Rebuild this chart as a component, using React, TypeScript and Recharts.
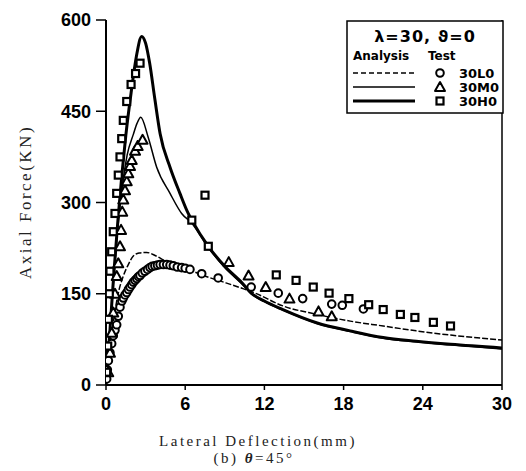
import React from 'react';
import { ComposedChart, Line, Scatter, XAxis, YAxis, ReferenceLine } from 'recharts';

const xTicks = [0, 6, 12, 18, 24, 30];
const yTicks = [0, 150, 300, 450, 600];

// analysis curves: [lateral deflection (mm), axial force (kN)]
const l0Analysis: [number, number][] = [
  [0, 0], [0.2, 45], [0.5, 95], [0.93, 151], [1.31, 179], [1.69, 198], [2.07, 212], [2.5, 217],
  [3.08, 218], [3.8, 212], [4.6, 203], [5.48, 198], [6.3, 190], [7.25, 181], [8.5, 172],
  [10.3, 159], [11.3, 151], [13.4, 130], [16, 116], [18.5, 105], [21, 97], [23.5, 89],
  [26.1, 82], [30, 74],
];
const m0Analysis: [number, number][] = [
  [0, 0], [0.4, 120], [0.8, 235], [1.2, 320], [1.6, 378], [2.07, 412], [2.35, 430], [2.63, 440],
  [3.2, 407], [3.84, 358], [4.85, 315], [5.73, 282], [6.5, 266], [7.75, 226], [9.0, 193],
  [10.3, 166], [11.0, 150], [12, 137], [13.4, 123], [16, 101], [18.5, 88], [21, 77],
  [23.5, 71], [26.1, 66], [30, 59],
];
const h0Analysis: [number, number][] = [
  [0, 0], [0.3, 90], [0.6, 185], [0.9, 270], [1.2, 345], [1.5, 410], [1.9, 480], [2.3, 540],
  [2.7, 573], [3.0, 562], [3.3, 530], [3.7, 470], [4.1, 413], [4.85, 358], [5.6, 315],
  [6.23, 282], [6.5, 271], [7.75, 228], [9.0, 195], [10.3, 168], [11.0, 151], [12, 138],
  [13.4, 124], [16.0, 102], [18.5, 89], [21.0, 78], [23.5, 72], [26.1, 67], [30, 61],
];

// test results
const l0Test: [number, number][] = [
  [0.05, 10], [0.1, 25], [0.18, 40], [0.3, 53], [0.43, 68], [0.55, 81], [0.68, 90], [0.81, 99],
  [0.93, 113], [1.06, 128], [1.2, 138], [1.31, 143], [1.44, 148], [1.57, 152], [1.7, 157],
  [1.82, 161], [1.95, 165], [2.07, 169], [2.2, 172], [2.33, 175], [2.46, 178], [2.58, 180],
  [2.75, 184], [2.95, 187], [3.15, 190], [3.33, 193], [3.5, 195], [3.7, 196], [3.9, 197],
  [4.1, 198], [4.35, 198], [4.6, 198], [4.85, 197], [5.1, 196], [5.4, 194], [5.73, 193],
  [6.0, 192], [6.36, 190], [7.25, 183], [8.5, 176], [11.0, 161], [13.05, 151], [14.9, 142],
  [17.1, 133], [17.9, 131], [19.5, 125],
];
const m0Test: [number, number][] = [
  [0.17, 21], [0.3, 53], [0.43, 86], [0.55, 119], [0.68, 150], [0.81, 179], [0.93, 200],
  [1.06, 228], [1.14, 255], [1.23, 285], [1.31, 305], [1.44, 320], [1.57, 335], [1.69, 348],
  [1.82, 360], [1.95, 370], [2.2, 385], [2.4, 393], [2.77, 403],
  [9.3, 202], [10.8, 180], [12.1, 161], [13.9, 142], [16.1, 121], [17.1, 113],
];
const h0Test: [number, number][] = [
  [0.05, 21], [0.13, 64], [0.18, 108], [0.25, 150], [0.3, 187], [0.43, 219], [0.55, 252],
  [0.68, 282], [0.81, 315], [0.93, 345], [1.06, 375], [1.19, 405], [1.31, 435], [1.57, 466],
  [1.9, 494], [2.24, 512], [2.58, 529], [6.5, 271], [7.75, 228], [7.5, 312], [12.9, 181],
  [14.4, 172], [15.7, 161], [16.9, 151], [18.4, 142], [19.9, 132], [21.0, 124], [22.3, 116],
  [23.4, 111], [24.8, 103], [26.1, 97],
];

const toPoints = (arr: [number, number][]) => arr.map(([x, y]) => ({ x, y }));

const CircleMark = ({ cx, cy }: any) =>
  cx == null ? null : <circle cx={cx} cy={cy} r={3.8} fill="#fff" stroke="#000" strokeWidth={2} />;

const TriangleMark = ({ cx, cy }: any) =>
  cx == null ? null : (
    <polygon
      points={`${cx},${cy - 5} ${cx - 5},${cy + 4} ${cx + 5},${cy + 4}`}
      fill="#fff"
      stroke="#000"
      strokeWidth={2}
      strokeLinejoin="round"
    />
  );

const SquareMark = ({ cx, cy }: any) =>
  cx == null ? null : (
    <rect x={cx - 3.5} y={cy - 3.5} width={7} height={7} fill="#fff" stroke="#000" strokeWidth={2.2} />
  );

const tickStyle = { fill: '#000', fontSize: 18, fontWeight: 700, fontFamily: 'Liberation Sans' };
const titleFont: React.CSSProperties = {
  position: 'absolute',
  fontFamily: 'Liberation Serif',
  fontSize: 15,
  lineHeight: '15px',
  color: '#222',
  whiteSpace: 'nowrap',
  letterSpacing: 2.5,
};

const LegendBox = () => (
  <svg width={158} height={94} style={{ position: 'absolute', left: 338, top: 12 }}>
    <rect x={1} y={1} width={156} height={92} fill="#fff" stroke="#000" strokeWidth={1.5} />
    <text x={79} y={16} textAnchor="middle" dominantBaseline="central" fontFamily="DejaVu Sans" fontWeight={700} fontSize={16} letterSpacing={1}>
      λ=30,  ϑ=0
    </text>
    <text x={7} y={36} dominantBaseline="central" fontFamily="DejaVu Sans" fontWeight={700} fontSize={12}>Analysis</text>
    <text x={82} y={36} dominantBaseline="central" fontFamily="DejaVu Sans" fontWeight={700} fontSize={12}>Test</text>
    <line x1={7} x2={69} y1={53} y2={53} stroke="#000" strokeWidth={1.5} strokeDasharray="5 3" />
    <line x1={7} x2={69} y1={67} y2={67} stroke="#000" strokeWidth={1.5} />
    <line x1={7} x2={69} y1={81} y2={81} stroke="#000" strokeWidth={3} />
    <CircleMark cx={94} cy={53} />
    <TriangleMark cx={94} cy={67} />
    <SquareMark cx={94} cy={81} />
    {['30L0', '30M0', '30H0'].map((s, i) => (
      <text key={s} x={113} y={53 + i * 14} dominantBaseline="central" fontFamily="DejaVu Sans" fontWeight={700} fontSize={13}>
        {s}
      </text>
    ))}
  </svg>
);

export default function App() {
  return (
    <div style={{ position: 'relative', width: 510, height: 463, background: '#fff' }}>
      <ComposedChart width={510} height={463} margin={{ top: 12, right: 16, bottom: 56, left: 38 }}>
        <XAxis
          type="number"
          dataKey="x"
          domain={[0, 30]}
          ticks={xTicks}
          height={30}
          tickSize={5}
          tickMargin={7}
          axisLine={{ stroke: '#000', strokeWidth: 2 }}
          tickLine={{ stroke: '#000', strokeWidth: 1.5 }}
          tick={tickStyle}
          allowDataOverflow
        />
        <YAxis
          type="number"
          dataKey="y"
          domain={[0, 600]}
          ticks={yTicks}
          width={60}
          tickSize={10}
          tickMargin={5}
          axisLine={{ stroke: '#000', strokeWidth: 2 }}
          tickLine={{ stroke: '#000', strokeWidth: 1.5 }}
          tick={tickStyle}
          allowDataOverflow
        />
        <ReferenceLine x={30} stroke="#000" strokeWidth={1.5} />
        <Line data={toPoints(l0Analysis)} dataKey="y" type="monotone" stroke="#000" strokeWidth={1.5} strokeDasharray="6 2" dot={false} isAnimationActive={false} />
        <Line data={toPoints(m0Analysis)} dataKey="y" type="monotone" stroke="#000" strokeWidth={1.5} dot={false} isAnimationActive={false} />
        <Line data={toPoints(h0Analysis)} dataKey="y" type="monotone" stroke="#000" strokeWidth={3} dot={false} isAnimationActive={false} />
        <Scatter data={toPoints(l0Test)} dataKey="y" shape={(p: any) => <CircleMark {...p} />} isAnimationActive={false} />
        <Scatter data={toPoints(m0Test)} dataKey="y" shape={(p: any) => <TriangleMark {...p} />} isAnimationActive={false} />
        <Scatter data={toPoints(h0Test)} dataKey="y" shape={(p: any) => <SquareMark {...p} />} isAnimationActive={false} />
      </ComposedChart>
      <LegendBox />
      <div style={{ ...titleFont, fontSize: 17, left: 17, top: 194, transform: 'translate(-50%, -50%) rotate(-90deg)' }}>
        Axial Force(KN)
      </div>
      <div style={{ ...titleFont, left: 250, top: 433, transform: 'translate(-50%, -50%)' }}>
        Lateral Deflection(mm)
      </div>
      <div style={{ ...titleFont, left: 246, top: 450, transform: 'translate(-50%, -50%)' }}>
        (b) <span style={{ fontWeight: 700, fontStyle: 'italic' }}>θ</span>=45°
      </div>
    </div>
  );
}
